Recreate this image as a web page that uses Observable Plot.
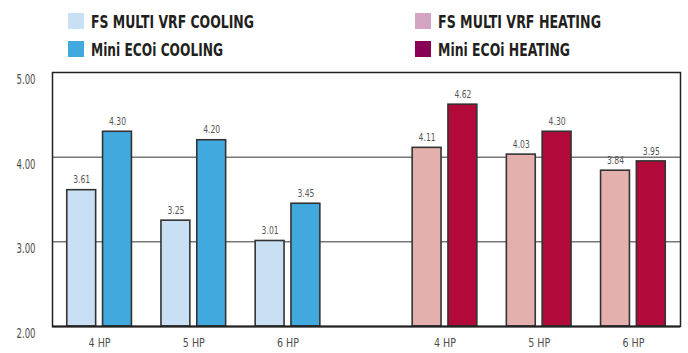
<!DOCTYPE html>
<html>
<head>
<meta charset="utf-8">
<script src="https://cdn.jsdelivr.net/npm/d3@7"></script>
<script src="https://cdn.jsdelivr.net/npm/@observablehq/plot@0.6"></script>
<style>
  html, body { margin: 0; padding: 0; background: #fff; }
  #wrap { position: relative; width: 688px; height: 353px; font-family: "DejaVu Sans Condensed", "DejaVu Sans", sans-serif; }
  .leg { position: absolute; display: flex; align-items: center; font-weight: bold; font-size: 18px; color: #231f20; white-space: nowrap; }
  .leg .sw { width: 16px; height: 16px; margin-right: 7px; flex: none; }
  .leg span { display: inline-block; transform-origin: left center; }
  #chart { position: absolute; left: 0; top: 0; }
</style>
</head>
<body>
<div id="wrap"><div id="legend"></div><div id="chart"></div></div>
<script>
// ---- data ----
const groups = ["4 HP", "5 HP", "6 HP"];
const modes = ["COOLING", "HEATING"];
const fsCooling = [3.61, 3.25, 3.01];
const miniCooling = [4.30, 4.20, 3.45];
const fsHeating = [4.11, 4.03, 3.84];
const miniHeating = [4.62, 4.30, 3.95];
const legendLabels = ["FS MULTI VRF COOLING", "Mini ECOi COOLING", "FS MULTI VRF HEATING", "Mini ECOi HEATING"];
const yTicks = [2, 3, 4, 5];

// ---- styles ----
const barColors = {"FS|COOLING": "#c9dff3", "Mini|COOLING": "#42a9df", "FS|HEATING": "#e4b0ad", "Mini|HEATING": "#b10a3a"};
const legendColors = ["#c9dff3", "#42a9df", "#d4a5c3", "#8b0057"];

// ---- table ----
const rows = [];
modes.forEach((m, mi) => groups.forEach((g, gi) => {
  const vals = m === "COOLING" ? [fsCooling[gi], miniCooling[gi]] : [fsHeating[gi], miniHeating[gi]];
  ["FS", "Mini"].forEach((s, si) => rows.push({mode: m, mi, group: g, gi, series: s, si, value: vals[si]}));
}));

// slot layout along a linear x scale: groups 3 slots apart, a 2-slot gap between modes
const center = (mi, gi) => 1.5 + 3 * gi + 11 * mi;
const barW = 0.92, gap = 0.22;
const left = d => center(d.mi, d.gi) + (d.si === 0 ? -(barW + gap / 2) : gap / 2);
const tickPos = [];
const tickLab = new Map();
modes.forEach((m, mi) => groups.forEach((g, gi) => { tickPos.push(center(mi, gi)); tickLab.set(center(mi, gi), g); }));

// legend
const legend = document.getElementById("legend");
const legPos = [[68, 12], [68, 40], [415, 12], [415, 40]];
legendLabels.forEach((t, i) => {
  const el = document.createElement("div");
  el.className = "leg";
  el.style.left = legPos[i][0] + "px";
  el.style.top = legPos[i][1] + "px";
  el.style.height = "18px";
  el.innerHTML = `<div class="sw" style="background:${legendColors[i]}"></div><span>${t}</span>`;
  legend.appendChild(el);
});

const chart = Plot.plot({
  width: 688,
  height: 353,
  marginTop: 72,
  marginBottom: 27,
  marginLeft: 52,
  marginRight: 8,
  style: {fontFamily: '"DejaVu Sans Condensed", "DejaVu Sans", sans-serif', fontSize: "13px", color: "#4d4d4d", background: "transparent"},
  x: {type: "linear", domain: [0, 20], ticks: tickPos, tickFormat: v => tickLab.get(v) ?? "", tickSize: 0, tickPadding: 11, label: null},
  y: {domain: [2, 5], ticks: yTicks, tickFormat: d3.format(".2f"), tickSize: 0, tickPadding: 17, label: null},
  marks: [
    Plot.ruleY([3, 4], {stroke: "#333", strokeWidth: 1}),
    Plot.rect(rows, {
      x1: left,
      x2: d => left(d) + barW,
      y1: 2,
      y2: "value",
      fill: d => barColors[d.series + "|" + d.mode],
      stroke: "#333",
      strokeWidth: 1.6
    }),
    Plot.text(rows, {
      x: d => left(d) + barW / 2,
      y: "value",
      text: d => d.value.toFixed(2),
      dy: -10,
      fontSize: 10,
      fill: "#555"
    }),
    Plot.frame({stroke: "#222", strokeWidth: 1.5}),
    Plot.ruleY([2], {stroke: "#222", strokeWidth: 2.2})
  ]
});
document.getElementById("chart").appendChild(chart);

// condense text (the reference uses a narrow DIN-like face)
document.querySelectorAll(".leg span").forEach(sp => {
  const w = sp.getBoundingClientRect().width;
  const goal = sp.textContent.startsWith("FS") ? 163 : 132;
  sp.style.transform = `scaleX(${goal / w})`;
});
chart.querySelectorAll("text").forEach(t => {
  const s = t.textContent;
  if (!s) return;
  let goal;
  if (/HP/.test(s)) goal = 22;
  else if (t.closest("[aria-label^='y-axis']")) {
    goal = 19;
    t.style.fontSize = "14px";
    t.setAttribute("dy", "7");   // labels hang just below their gridline
  } else goal = 17;
  t.setAttribute("textLength", goal);
  t.setAttribute("lengthAdjust", "spacingAndGlyphs");
});
</script>
</body>
</html>
